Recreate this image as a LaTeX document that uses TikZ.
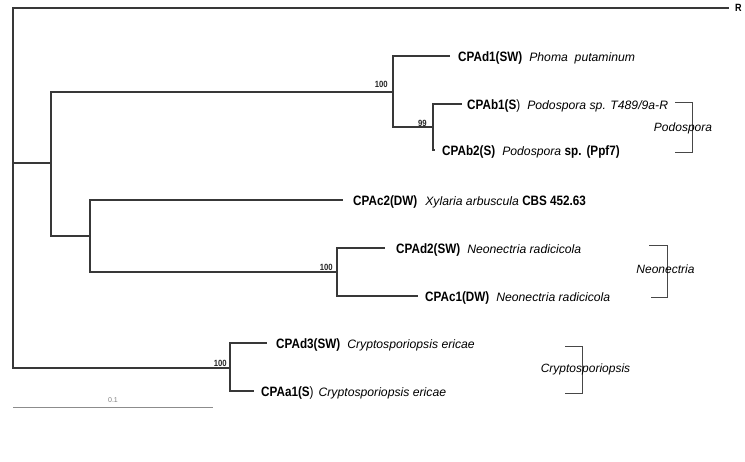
\documentclass[tikz,border=0pt]{standalone}
\usepackage{fontspec}
\setmainfont{Liberation Sans}
\newfontfamily\condfont{Liberation Sans}[FakeStretch=0.86]
\newcommand\nm[1]{{\condfont\bfseries\fontsize{13.6}{15}\selectfont #1}}
\newcommand\thinpar{{\condfont\fontsize{13.6}{15}\selectfont)}}
\begin{document}
\begin{tikzpicture}[x=1pt,y=-1pt,
  tree/.style={draw=black!78, line width=1.2pt},
  brk/.style={draw=black!72, line width=0.9pt},
  leaf/.style={anchor=west, inner sep=0pt, text height=10pt, text depth=0pt,
    font=\fontsize{12.2}{14}\selectfont},
  boot/.style={anchor=base east, inner sep=0pt,
    font=\condfont\bfseries\fontsize{9}{10}\selectfont, text=black!85},
  clade/.style={inner sep=0pt, font=\itshape\fontsize{12}{14}\selectfont}]
\useasboundingbox (0,0) rectangle (745,461);
\fill[white] (0,0) rectangle (745,461);

% internal nodes
\coordinate (root) at (13,163);
\coordinate (A) at (51,163);
\coordinate (B) at (393,92);
\coordinate (C) at (433,127);
\coordinate (D) at (90,236);
\coordinate (E) at (337,272);
\coordinate (F) at (230,368);

% leaves
\node[anchor=west, inner sep=0pt, font=\condfont\bfseries\fontsize{10.5}{12}\selectfont] (R) at (735,8) {R};
\node[leaf] (d1) at (458,56) {\nm{CPAd1(SW)}\hspace{7pt}\textit{Phoma\ \ putaminum}};
\node[leaf] (b1) at (467,104) {\nm{CPAb1(S}\thinpar\hspace{7pt}\textit{Podospora sp. T489/9a-R}};
\node[leaf] (b2) at (442,150) {\nm{CPAb2(S)}\hspace{7pt}\textit{Podospora} \nm{sp.}\hspace{5pt}\nm{(Ppf7)}};
\node[leaf] (c2) at (353,200) {\nm{CPAc2(DW)}\hspace{8pt}\textit{Xylaria arbuscula} \nm{CBS 452.63}};
\node[leaf] (d2) at (396,248) {\nm{CPAd2(SW)}\hspace{7pt}\textit{Neonectria radicicola}};
\node[leaf] (c1) at (425,296) {\nm{CPAc1(DW)}\hspace{7pt}\textit{Neonectria radicicola}};
\node[leaf] (d3) at (276,343) {\nm{CPAd3(SW)}\hspace{7pt}\textit{Cryptosporiopsis ericae}};
\node[leaf] (a1) at (261,391) {\nm{CPAa1(S}\thinpar\hspace{5pt}\textit{Cryptosporiopsis ericae}};

% branches
\draw[tree] (root) |- ([xshift=-6pt]R.west);
\draw[tree] (root) -- (A);
\draw[tree] (root) |- (F);
\draw[tree] (A) |- (B);
\draw[tree] (A) |- (D);
\draw[tree] (B) |- ([xshift=-8pt]d1.west);
\draw[tree] (B) |- (C);
\draw[tree] (C) |- ([xshift=-5pt]b1.west);
\draw[tree] (C) |- ([xshift=-7pt]b2.west);
\draw[tree] (D) |- ([xshift=-10pt]c2.west);
\draw[tree] (D) |- (E);
\draw[tree] (E) |- ([xshift=-11pt]d2.west);
\draw[tree] (E) |- ([xshift=-7pt]c1.west);
\draw[tree] (F) |- ([xshift=-9pt]d3.west);
\draw[tree] (F) |- ([xshift=-7pt]a1.west);

% bootstrap values
\node[boot] (bB) at (388,87) {100};
\node[boot] (bC) at (427,126) {99};
\node[boot] (bE) at (333,270) {100};
\node[boot] (bF) at (227,366) {100};

% clade brackets
\draw[brk] (675,102) -- (692,102) -- (692,152) -- (675,152);
\node[clade] (podo) at (683,128) {Podospora};
\draw[brk] (649,245) -- (667,245) -- (667,297) -- (651,297);
\node[clade] (neon) at (665.5,269) {Neonectria};
\draw[brk] (565,346) -- (582,346) -- (582,393) -- (565,393);
\node[clade] (cryp) at (585.5,369) {Cryptosporiopsis};

% scale bar
\coordinate (s0) at (13,407);
\coordinate (s1) at (213,407);
\draw[draw=black!45, line width=0.8pt] (s0) -- (s1);
\node[inner sep=0pt, font=\fontsize{7}{8}\selectfont, text=black!50] (sl) at (113,400) {0.1};
\end{tikzpicture}
\end{document}
